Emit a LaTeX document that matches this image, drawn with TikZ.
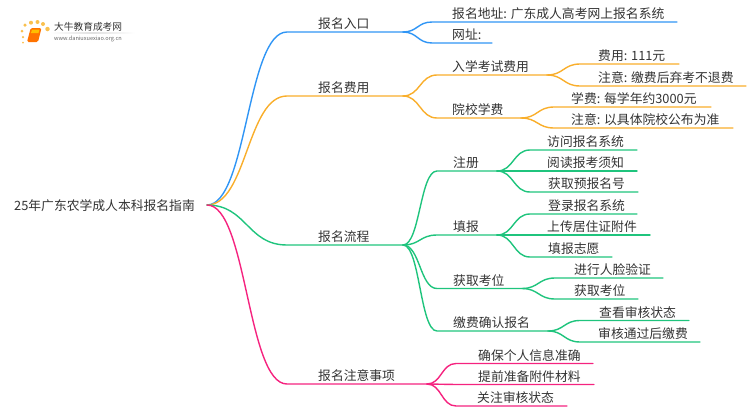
\documentclass[tikz,border=0pt]{standalone}
\usepackage{fontspec}
\setmainfont{Noto Sans CJK SC}
\usetikzlibrary{calc}
\definecolor{cblue}{HTML}{2F95F5}
\definecolor{corange}{HTML}{F9AE2B}
\definecolor{cgreen}{HTML}{1FC47D}
\definecolor{cpink}{HTML}{F5237F}
\definecolor{ctext}{HTML}{333333}
\definecolor{cdot}{HTML}{F9C04E}
\tikzset{
  lbl/.style={anchor=base west,inner sep=0pt,text=ctext,font=\fontsize{12.8}{15}\selectfont},
  conn/.style={line width=1.4pt,line cap=round},
  dot/.style={circle,fill=cdot,inner sep=0pt,draw=none,minimum size=#1},
}
% name, colour, parent, x of bend end, x of line end, y, x of text, text
\newcommand{\branch}[8]{%
  \coordinate (#1s) at (#4,#6);
  \coordinate (#1e) at (#5,#6);
  \node[lbl] (#1) at (#7,#6-3.3) {#8};
  \draw[conn,#2] (#3) .. controls ($(#3)!0.5!(#1s |- #3)$) and ($(#1s)!0.5!(#3 |- #1s)$) .. (#1s) -- (#1e);
}
\begin{document}
\begin{tikzpicture}[x=1pt,y=-1pt]
\useasboundingbox (0,0) rectangle (750,410);
% logo
\shade[left color=white,right color=white,middle color=black!12] (50,32.6) rectangle (135,33.4);
\node[dot=2pt] (d00) at (23,42.5) {};
\node[dot=2.5pt] (d0) at (23,37) {};
\node[dot=3pt] (d1) at (22,31) {};
\node[dot=3.5pt] (d2) at (25,25) {};
\node[dot=4pt] (d3) at (31,22.7) {};
\node[dot=4pt] (d4) at (37.5,22) {};
\node[dot=4pt] (d5) at (43,24) {};
\node[dot=4.5pt] (d6) at (47.5,29) {};
\fill[orange!90!red,rounded corners=1.5pt] (30.7,28) -- (41.5,28) -- (38,42) -- (27,42) -- cycle;
\fill[orange!50!yellow] (32,29.5) -- (39.5,29.5) -- (38.5,33) -- (31,33) -- cycle;
\node[inner sep=0pt,anchor=base west,text=ctext,font=\fontsize{9.7}{11}\selectfont] (logo) at (54,30.8) {大牛教育成考网};
\node[inner sep=0pt,anchor=base west,text=black!60,font=\fontsize{5.6}{7}\selectfont] (url) at (54,40.5) {www.daniuxuexiao.org.cn};
% root
\node[lbl] (root) at (14,210) {25年广东农学成人本科报名指南};
\coordinate (r) at (207,205);
% level 1
\branch{a}{cblue}{r}{287}{403}{32}{318}{报名入口}
\branch{b}{corange}{r}{287}{403}{96}{318}{报名费用}
\branch{c}{cgreen}{r}{287}{403}{245}{318}{报名流程}
\branch{d}{cpink}{r}{287}{427}{384}{318}{报名注意事项}
% level 2
\branch{a1}{cblue}{ae}{432}{677}{22}{452}{报名地址: 广东成人高考网上报名系统}
\branch{a2}{cblue}{ae}{432}{492}{43}{452}{网址:}
\branch{b1}{corange}{be}{437}{547}{75}{452}{入学考试费用}
\branch{b2}{corange}{be}{437}{521}{118}{452}{院校学费}
\branch{c1}{cgreen}{ce}{437}{497}{171}{453}{注册}
\branch{c2}{cgreen}{ce}{437}{497}{235}{453}{填报}
\branch{c3}{cgreen}{ce}{437}{522}{288.5}{453}{获取考位}
\branch{c4}{cgreen}{ce}{437}{548}{331}{453}{缴费确认报名}
\branch{d1x}{cpink}{de}{456}{593}{363.5}{478}{确保个人信息准确}
\branch{d2x}{cpink}{de}{456}{594}{384.5}{478}{提前准备附件材料}
\branch{d3x}{cpink}{de}{456}{567}{406}{477}{关注审核状态}
% level 3
\branch{e1}{corange}{b1e}{580}{679}{64}{598}{费用: 111元}
\branch{e2}{corange}{b1e}{580}{746}{86}{598}{注意: 缴费后弃考不退费}
\branch{f1}{corange}{b2e}{554}{711}{107}{571}{学费: 每学年约3000元}
\branch{f2}{corange}{b2e}{554}{733}{128}{571}{注意: 以具体院校公布为准}
\branch{g1}{cgreen}{c1e}{530}{637}{150}{547}{访问报名系统}
\branch{g2}{cgreen}{c1e}{530}{637}{171}{547}{阅读报考须知}
\branch{g3}{cgreen}{c1e}{530}{638}{192}{548}{获取预报名号}
\branch{h1}{cgreen}{c2e}{530}{637}{214}{548}{登录报名系统}
\branch{h2}{cgreen}{c2e}{530}{650}{235}{547}{上传居住证附件}
\branch{h3}{cgreen}{c2e}{530}{612}{257}{548}{填报志愿}
\branch{i1}{cgreen}{c3e}{555}{663}{278}{574}{进行人脸验证}
\branch{i2}{cgreen}{c3e}{555}{638}{299}{574}{获取考位}
\branch{j1}{cgreen}{c4e}{580}{689}{320.5}{599}{查看审核状态}
\branch{j2}{cgreen}{c4e}{580}{700}{342}{598}{审核通过后缴费}
\end{tikzpicture}
\end{document}
